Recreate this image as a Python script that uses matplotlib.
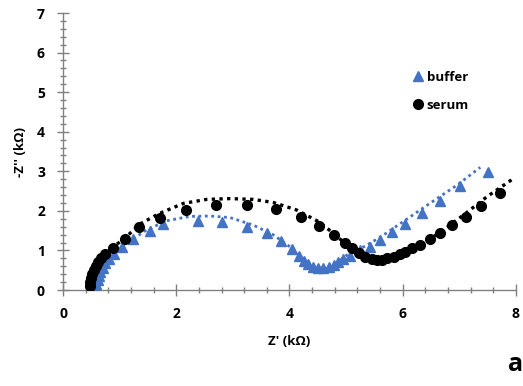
import numpy as np
import matplotlib
matplotlib.use('Agg')
import matplotlib.pyplot as plt
from matplotlib.ticker import MultipleLocator

plt.rcParams['font.family'] = ['Open Sans', 'DejaVu Sans']

# ── data (kΩ) ────────────────────────────────────────────────────
buffer_x = [0.57, 0.59, 0.61, 0.63, 0.66, 0.70, 0.75, 0.81, 0.90, 1.04, 1.24, 1.54, 1.76,
            2.39, 2.80, 3.25, 3.60, 3.85, 4.04, 4.16, 4.25, 4.33, 4.42, 4.51, 4.60,
            4.69, 4.78, 4.86, 4.95, 5.07, 5.25, 5.42, 5.60, 5.81, 6.04, 6.34, 6.66,
            7.01, 7.51]
buffer_y = [0.05, 0.15, 0.25, 0.35, 0.45, 0.56, 0.67, 0.78, 0.90, 1.08, 1.30, 1.50, 1.67,
            1.74, 1.71, 1.60, 1.43, 1.23, 1.04, 0.86, 0.73, 0.65, 0.59, 0.55, 0.55,
            0.57, 0.63, 0.70, 0.78, 0.86, 1.00, 1.08, 1.26, 1.47, 1.67, 1.95, 2.25,
            2.63, 2.97]

serum_x = [0.47, 0.48, 0.50, 0.52, 0.55, 0.58, 0.62, 0.67, 0.75, 0.88, 1.10, 1.35, 1.71,
           2.17, 2.70, 3.25, 3.76, 4.20, 4.53, 4.78, 4.98, 5.10, 5.22, 5.34, 5.45,
           5.54, 5.63, 5.72, 5.84, 5.95, 6.04, 6.16, 6.31, 6.48, 6.66, 6.87, 7.12,
           7.39, 7.71]
serum_y = [0.10, 0.20, 0.30, 0.40, 0.50, 0.60, 0.70, 0.80, 0.90, 1.07, 1.30, 1.58, 1.81,
           2.02, 2.15, 2.15, 2.04, 1.84, 1.61, 1.39, 1.20, 1.05, 0.93, 0.84, 0.78,
           0.76, 0.76, 0.80, 0.84, 0.91, 0.97, 1.05, 1.14, 1.28, 1.45, 1.64, 1.85,
           2.12, 2.44]

# fitted curves (dotted)
fit_buf_x = [0.57, 0.65, 0.77, 1.07, 1.48, 1.83, 2.24, 2.60, 2.95, 3.36, 3.72, 4.01,
             4.30, 4.45, 4.58, 4.75, 5.01, 5.31, 5.60, 6.01, 6.48, 6.96, 7.37]
fit_buf_y = [0.05, 0.40, 0.67, 1.14, 1.52, 1.75, 1.86, 1.87, 1.83, 1.64, 1.39, 1.09,
             0.72, 0.57, 0.52, 0.58, 0.88, 1.09, 1.33, 1.73, 2.19, 2.65, 3.10]
fit_ser_x = [0.45, 0.55, 0.70, 0.88, 1.10, 1.36, 1.71, 2.13, 2.54, 2.95, 3.36, 3.72,
             4.13, 4.51, 4.78, 5.01, 5.25, 5.48, 5.72, 6.01, 6.37, 6.72, 7.07, 7.49, 7.96]
fit_ser_y = [0.05, 0.50, 0.82, 1.08, 1.32, 1.67, 1.94, 2.19, 2.29, 2.31, 2.29, 2.21,
             2.02, 1.73, 1.43, 1.14, 0.88, 0.76, 0.78, 0.93, 1.18, 1.52, 1.89, 2.36, 2.82]

BLUE = '#4472C4'

fig = plt.figure(figsize=(5.23, 3.86), dpi=100)
ax = fig.add_axes([0.1205, 0.2487, 0.866, 0.7176])

ax.plot(fit_ser_x, fit_ser_y, color='black', lw=2.4, linestyle=(0, (1, 1.3)), zorder=2)
ax.plot(fit_buf_x, fit_buf_y, color=BLUE, lw=2.0, linestyle=(0, (1, 1.3)), zorder=2)
ax.plot(buffer_x, buffer_y, '^', color=BLUE, ms=7.5, mec=BLUE, label='buffer', zorder=3)
ax.plot(serum_x, serum_y, 'o', color='black', ms=7, label='serum', zorder=4)

ax.set_xlim(0, 8)
ax.set_ylim(0, 7)
ax.xaxis.set_major_locator(MultipleLocator(2))
ax.xaxis.set_minor_locator(MultipleLocator(0.4))
ax.yaxis.set_major_locator(MultipleLocator(1))
ax.yaxis.set_minor_locator(MultipleLocator(0.2))

for s in ['top', 'right']:
    ax.spines[s].set_visible(False)
for s in ['left', 'bottom']:
    ax.spines[s].set_color('#808080')
    ax.spines[s].set_linewidth(1.0)

ax.tick_params(which='major', direction='inout', length=8, width=1, color='#808080',
               labelsize=10)
ax.tick_params(axis='x', which='major', pad=8)
ax.tick_params(axis='y', which='major', pad=9)
ax.tick_params(which='minor', direction='inout', length=4, width=1, color='#808080')
for lab in ax.get_xticklabels() + ax.get_yticklabels():
    lab.set_fontweight('bold')

ax.set_xlabel("Z' (kΩ)", fontsize=9.5, fontweight='bold', labelpad=10)
ax.set_ylabel("-Z'' (kΩ)", fontsize=9.5, fontweight='bold', labelpad=7)

leg = ax.legend(loc='upper left', bbox_to_anchor=(0.739, 0.835), frameon=False,
                handletextpad=0.1, handlelength=1.2, fontsize=9.5, labelspacing=1.15)
for t in leg.get_texts():
    t.set_fontweight('bold')

fig.text(0.972, 0.055, 'a', fontsize=18, fontweight='bold', ha='left', va='center')

fig.savefig('out.png', dpi=100)
